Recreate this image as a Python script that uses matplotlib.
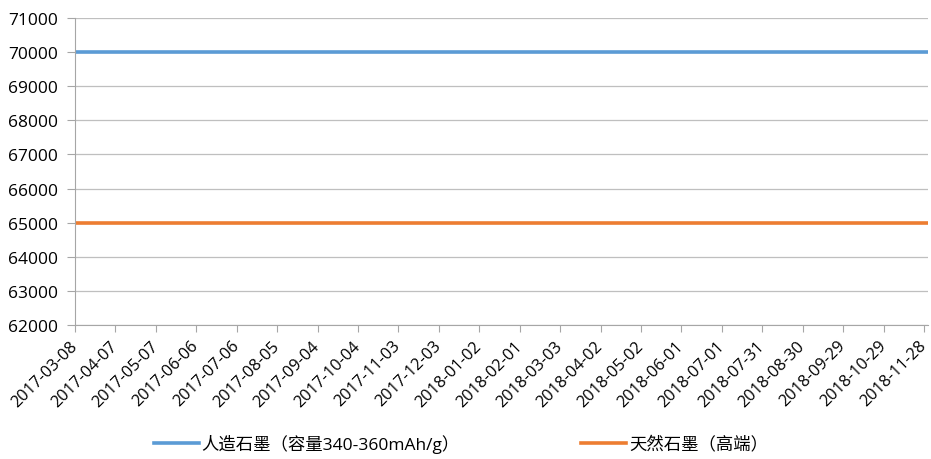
import matplotlib
matplotlib.use('Agg')
import matplotlib.pyplot as plt
import pandas as pd

plt.rcParams['font.family'] = ['Open Sans', 'Noto Sans CJK SC', 'DejaVu Sans']

# 价格序列（元/吨），整段区间不变
start_date = '2017-03-08'
end_date = '2018-12-01'
artificial_price = 70000
natural_price = 65000
series_labels = ['人造石墨（容量340-360mAh/g）', '天然石墨（高端）']
series_colors = ['#5B9BD5', '#ED7D31']

dates = pd.date_range(start_date, end_date, freq='D')
values = [[artificial_price] * len(dates), [natural_price] * len(dates)]

fig = plt.figure(figsize=(9.31, 4.6), dpi=100)
ax = fig.add_axes([0.0806, 0.2913, 0.9162, 0.6674])

for y, label, color in zip(values, series_labels, series_colors):
    ax.plot(dates, y, color=color, linewidth=2.6, label=label)

tick_dates = pd.date_range(start_date, '2018-11-28', freq='30D')
ax.set_xticks(tick_dates)
ax.set_xticklabels([d.strftime('%Y-%m-%d') for d in tick_dates],
                   rotation=45, ha='right', va='center', rotation_mode='anchor',
                   fontsize=11.8)
ax.set_xlim(dates[0], dates[-1])

ax.set_ylim(62000, 71000)
ax.set_yticks(range(62000, 71001, 1000))
ax.tick_params(axis='y', labelsize=12.5, length=6, color='#a6a6a6', pad=6)
ax.tick_params(axis='x', length=5, color='#a6a6a6', pad=8)

ax.grid(axis='y', color='#bfbfbf', linewidth=0.9)
ax.set_axisbelow(True)
for side in ['top', 'right']:
    ax.spines[side].set_visible(False)
for side in ['left', 'bottom']:
    ax.spines[side].set_color('#a6a6a6')

fig.legend(loc='lower center', bbox_to_anchor=(0.495, -0.022), ncol=2,
           frameon=False, fontsize=12.5, handlelength=2.6, handletextpad=0.15,
           columnspacing=7)

plt.savefig('out.png', dpi=100)
